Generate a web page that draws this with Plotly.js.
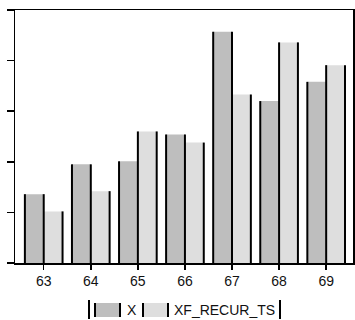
<!DOCTYPE html>
<html>
<head>
<meta charset="utf-8">
<script src="https://cdn.plot.ly/plotly-3.0.1.min.js"></script>
<style>
  html, body { margin: 0; padding: 0; background: #fff; }
  #chart { width: 355px; height: 320px; }
</style>
</head>
<body>
<div id="chart"></div>
<script>
// Observations per period
const periods = [63, 64, 65, 66, 67, 68, 69];
const seriesX = [1.36, 1.95, 2.01, 2.54, 4.57, 3.20, 3.58];
const seriesXF = [1.02, 1.42, 2.60, 2.38, 3.33, 4.36, 3.91];
const seriesNames = ['X', 'XF_RECUR_TS'];
const tickLabels = ['63', '64', '65', '66', '67', '68', '69'];

const fillX = '#bebebe';
const fillXF = '#dedede';
const half = 0.4; // width of one bar in axis units (bargap 0.2, two bars)

// Plot-area geometry in pixels, used to place the hand-made legend
const W = 355, H = 320;
const M = { l: 15, r: 2, t: 10, b: 57 };
const plotW = W - M.l - M.r, plotH = H - M.t - M.b;
const px = x => (x - M.l) / plotW;
const py = y => (H - M.b - y) / plotH;

// Dark vertical edges of each bar, derived from the bar values
const edgeX = [], edgeY = [];
periods.forEach((p, i) => {
  const a = seriesX[i], b = seriesXF[i];
  edgeX.push(p - half, p - half, null, p, p, null, p + half, p + half, null);
  edgeY.push(0, a, null, 0, Math.max(a, b), null, 0, b, null);
});

const traces = [
  { type: 'bar', name: seriesNames[0], x: periods, y: seriesX,
    marker: { color: fillX, line: { width: 0 } }, hoverinfo: 'x+y' },
  { type: 'bar', name: seriesNames[1], x: periods, y: seriesXF,
    marker: { color: fillXF, line: { width: 0 } }, hoverinfo: 'x+y' },
  { type: 'scatter', mode: 'lines', x: edgeX, y: edgeY,
    line: { color: '#000', width: 2 }, hoverinfo: 'skip', showlegend: false }
];

// Legend: swatches with dark side edges, bracketed by vertical bars
const legY0 = 303, legY1 = 317;
const swatches = [
  { x0: 95, x1: 120, color: fillX, label: seriesNames[0], tx: 125 },
  { x0: 143, x1: 168, color: fillXF, label: seriesNames[1], tx: 172 }
];
const shapes = [];
const annotations = [];
swatches.forEach(s => {
  shapes.push({ type: 'rect', xref: 'paper', yref: 'paper',
    x0: px(s.x0), x1: px(s.x1), y0: py(legY1), y1: py(legY0),
    fillcolor: s.color, line: { width: 0 } });
  [s.x0, s.x1].forEach(e => shapes.push({ type: 'line', xref: 'paper', yref: 'paper',
    x0: px(e), x1: px(e), y0: py(legY1), y1: py(legY0),
    line: { color: '#000', width: 2 } }));
  annotations.push({ xref: 'paper', yref: 'paper', x: px(s.tx), y: py((legY0 + legY1) / 2),
    xanchor: 'left', yanchor: 'middle', showarrow: false, text: s.label,
    font: { family: 'Liberation Sans, Arial, sans-serif', size: 14, color: '#111' } });
});
[89, 280].forEach(e => shapes.push({ type: 'line', xref: 'paper', yref: 'paper',
  x0: px(e), x1: px(e), y0: py(319), y1: py(300),
  line: { color: '#000', width: 2 } }));

const layout = {
  width: W, height: H,
  margin: M,
  paper_bgcolor: '#fff', plot_bgcolor: '#fff',
  barmode: 'group', bargap: 0.2, bargroupgap: 0,
  showlegend: false,
  font: { family: 'Liberation Sans, Arial, sans-serif', size: 14, color: '#111' },
  xaxis: {
    type: 'linear', range: [62.39, 69.57],
    tickvals: periods, ticktext: tickLabels,
    ticks: 'outside', ticklen: 5, tickwidth: 1.5, tickcolor: '#000',
    showline: true, linecolor: '#000', linewidth: 1.5, mirror: true,
    showgrid: false, zeroline: false,
    tickfont: { size: 14, color: '#111' }
  },
  yaxis: {
    range: [0, 5], dtick: 1,
    ticks: 'outside', ticklen: 7, tickwidth: 1.5, tickcolor: '#000',
    showticklabels: false,
    showline: true, linecolor: '#000', linewidth: 1.5, mirror: true,
    showgrid: false, zeroline: false
  },
  shapes: shapes,
  annotations: annotations
};

Plotly.newPlot('chart', traces, layout, { displayModeBar: false, staticPlot: true });
</script>
</body>
</html>
